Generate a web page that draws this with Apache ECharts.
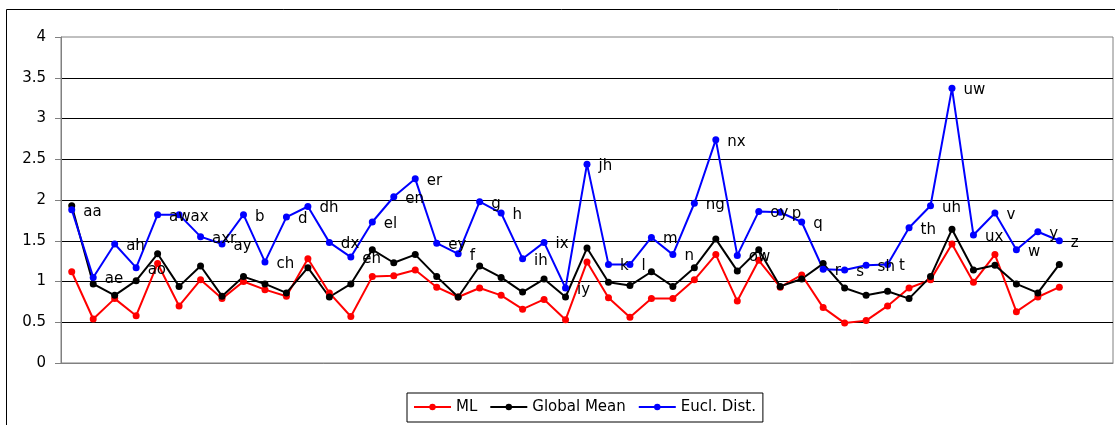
<!DOCTYPE html>
<html>
<head>
<meta charset="utf-8">
<title>Phone distances</title>
<script src="https://cdn.jsdelivr.net/npm/echarts@6/dist/echarts.min.js"></script>
<style>
  html, body { margin: 0; padding: 0; background: #fff; }
  #chart { width: 1115px; height: 425px; }
</style>
</head>
<body>
<div id="chart"></div>
<script>
// Phone set, one point per phone
const phones = ['aa','ae','ah','ao','aw','ax','axr','ay','b','ch','d','dh','dx','eh','el','en','er','ey','f','g','h','ih','ix','iy','jh','k','l','m','n','ng','nx','ow','oy','p','q','r','s','sh','t','th','uh','uw','ux','v','w','y','z'];

// Series values
const mlValues = [1.12,0.54,0.79,0.58,1.22,0.70,1.02,0.79,1.00,0.90,0.82,1.28,0.86,0.57,1.06,1.07,1.14,0.93,0.81,0.92,0.83,0.66,0.78,0.53,1.24,0.80,0.56,0.79,0.79,1.02,1.33,0.76,1.26,0.93,1.08,0.68,0.49,0.52,0.70,0.92,1.02,1.46,0.99,1.33,0.63,0.81,0.93];
const globalMeanValues = [1.93,0.97,0.83,1.01,1.34,0.94,1.19,0.82,1.06,0.97,0.86,1.17,0.81,0.97,1.39,1.23,1.33,1.06,0.81,1.19,1.05,0.87,1.03,0.81,1.41,0.99,0.95,1.12,0.94,1.17,1.52,1.13,1.39,0.94,1.03,1.22,0.92,0.83,0.88,0.79,1.06,1.64,1.14,1.20,0.97,0.86,1.21];
const euclValues = [1.88,1.05,1.46,1.17,1.82,1.82,1.55,1.46,1.82,1.24,1.79,1.92,1.48,1.30,1.73,2.04,2.26,1.47,1.34,1.98,1.84,1.28,1.48,0.92,2.44,1.21,1.21,1.54,1.33,1.96,2.74,1.32,1.86,1.85,1.73,1.15,1.14,1.20,1.21,1.66,1.93,3.37,1.57,1.84,1.39,1.61,1.50];

// Y axis ticks
const yTicks = [0, 0.5, 1, 1.5, 2, 2.5, 3, 3.5, 4];

// The category axis keeps two trailing empty slots after the last phone
const categories = phones.concat(['', '']);

const FONT = 'DejaVu Sans';

const chart = echarts.init(document.getElementById('chart'), null, { renderer: 'canvas' });

const baseLine = (name, color, values) => ({
  name: name,
  type: 'line',
  data: values,
  symbol: 'circle',
  symbolSize: 7,
  showAllSymbol: true,
  animation: false,
  color: color,
  itemStyle: { color: color },
  lineStyle: { color: color, width: 2 },
  emphasis: { disabled: true }
});

const euclSeries = baseLine('Eucl. Dist.', '#0000ff', euclValues);
euclSeries.label = {
  show: true,
  position: 'right',
  distance: 8,
  offset: [0, 2],
  formatter: '{b}',
  color: '#000',
  fontFamily: FONT,
  fontSize: 15
};

chart.setOption({
  backgroundColor: '#fff',
  animation: false,
  graphic: [{
    type: 'rect',
    shape: { x: 6.5, y: 9.5, width: 1300, height: 600 },
    style: { fill: 'none', stroke: '#000', lineWidth: 1 },
    silent: true,
    z: -10
  }],
  grid: {
    left: 61,
    top: 37,
    right: 2,
    bottom: 62,
    show: true,
    borderColor: '#808080',
    borderWidth: 1,
    backgroundColor: 'transparent'
  },
  legend: {
    left: 407,
    top: 393,
    padding: [5, 7, 6, 6],
    borderColor: '#000',
    borderWidth: 1,
    itemWidth: 37,
    itemHeight: 8,
    itemGap: 12,
    textStyle: { color: '#000', fontFamily: FONT, fontSize: 15, lineHeight: 18 },
    data: ['ML', 'Global Mean', 'Eucl. Dist.']
  },
  xAxis: {
    type: 'category',
    data: categories,
    boundaryGap: true,
    axisLine: { show: true, lineStyle: { color: '#808080', width: 1 } },
    axisTick: { show: false },
    axisLabel: { show: false },
    splitLine: { show: false }
  },
  yAxis: {
    type: 'value',
    min: yTicks[0],
    max: yTicks[yTicks.length - 1],
    interval: yTicks[1] - yTicks[0],
    axisLine: { show: true, lineStyle: { color: '#808080', width: 1 } },
    axisTick: { show: true, inside: false, length: 6, lineStyle: { color: '#808080' } },
    axisLabel: { color: '#000', fontFamily: FONT, fontSize: 15, margin: 15 },
    splitLine: { show: true, showMinLine: false, showMaxLine: false, lineStyle: { color: '#000', width: 1 } }
  },
  series: [
    baseLine('ML', '#ff0000', mlValues),
    baseLine('Global Mean', '#000000', globalMeanValues),
    euclSeries
  ]
});
</script>
</body>
</html>
